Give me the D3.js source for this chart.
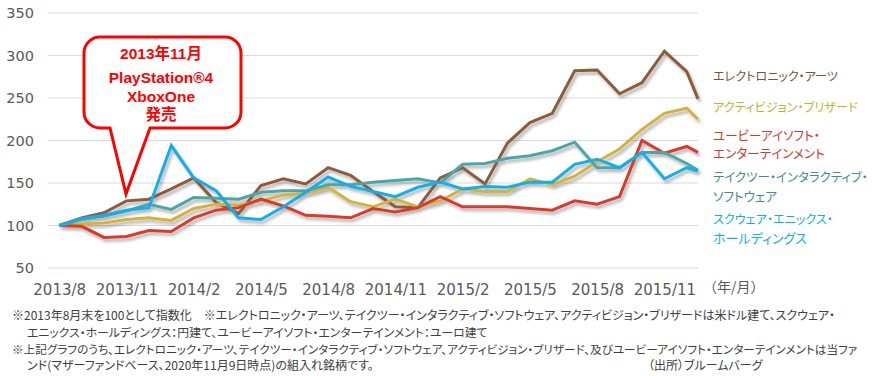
<!DOCTYPE html>
<html>
<head>
<meta charset="utf-8">
<script src="https://cdn.jsdelivr.net/npm/d3@7"></script>
<style>
  body { margin: 0; background: #fff; }
  svg { display: block; }
</style>
</head>
<body>
<svg width="872" height="376"></svg>
<script>
// month offsets from 2013/8 (last observation is mid-month)
const obs = d3.range(29).concat([28.5]);

const tickLabels = ["2013/8", "2013/11", "2014/2", "2014/5", "2014/8",
  "2014/11", "2015/2", "2015/5", "2015/8", "2015/11"];
const yTicks = [50, 100, 150, 200, 250, 300, 350];

const ea = [100, 109, 115, 129, 131, 143, 156, 127, 114, 147, 155, 149, 168, 159, 140,
  122, 121, 156, 168, 149, 197, 221, 232, 282, 283, 255, 268, 305, 281, 249];
const activision = [100, 102, 103, 107, 109, 106, 120, 125, 124, 129, 136, 138, 145, 128, 122,
  131, 122, 129, 143, 140, 140, 155, 148, 158, 175, 190, 213, 232, 238, 225];
const ubisoft = [100, 99, 86, 87, 94, 93, 109, 118, 121, 131, 123, 112, 111, 109, 120,
  116, 121, 134, 122, 122, 122, 120, 118, 129, 125, 134, 200, 185, 193, 186];
const taketwo = [100, 107, 111, 117, 125, 119, 133, 132, 131, 139, 141, 141, 148, 148, 151,
  153, 155, 150, 172, 173, 179, 182, 188, 198, 168, 168, 186, 186, 173, 165];
const squareEnix = [100, 108, 112, 118, 121, 194, 156, 141, 109, 107, 122, 139, 157, 146, 140,
  134, 145, 151, 143, 146, 145, 151, 151, 172, 178, 168, 186, 155, 168, 164];

const series = [
  { name: "ea", values: ea, color: "#8C5B3B" },
  { name: "activision", values: activision, color: "#D5B23C" },
  { name: "ubisoft", values: ubisoft, color: "#D93A2A" },
  { name: "taketwo", values: taketwo, color: "#4BA6A9" },
  { name: "square", values: squareEnix, color: "#12AEEA" },
];

const legend = [
  { lines: ["エレクトロニック・アーツ"], color: "#7D5235", y: 77, w: [125] },
  { lines: ["アクティビジョン・ブリザード"], color: "#CFAB32", y: 108, w: [145] },
  { lines: ["ユービーアイソフト・", "エンターテインメント"], color: "#D23A2A", y: 135, w: [107, 112] },
  { lines: ["テイクツー・インタラクティブ・", "ソフトウェア"], color: "#3F8C90", y: 178, w: [155, 64] },
  { lines: ["スクウェア・エニックス・", "ホールディングス"], color: "#12AEEA", y: 220, w: [120, 94] },
];

const notes = [
  { text: "※2013年8月末を100として指数化　※エレクトロニック・アーツ、テイクツー・インタラクティブ・ソフトウェア、アクティビジョン・ブリザードは米ドル建て、スクウェア・", x: 12, y: 320, w: 826 },
  { text: "エニックス・ホールディングス：円建て、ユービーアイソフト・エンターテインメント：ユーロ建て", x: 27, y: 337, w: 461 },
  { text: "※上記グラフのうち、エレクトロニック・アーツ、テイクツー・インタラクティブ・ソフトウェア、アクティビジョン・ブリザード、及びユービーアイソフト・エンターテインメントは当ファ", x: 12, y: 354, w: 846 },
  { text: "ンド(マザーファンドベース、2020年11月9日時点)の組入れ銘柄です。", x: 27, y: 370, w: 371 },
  { text: "（出所）ブルームバーグ", x: 648, y: 370, w: 132 },
];

const callout = ["2013年11月", "PlayStation®4", "XboxOne", "発売"];

const svg = d3.select("svg");
const jp = "'Noto Sans CJK JP', sans-serif";

const x = d3.scaleLinear().domain([-0.5, 28.5]).range([48, 698]);
const y = d3.scaleLinear().domain([50, 350]).range([268, 13]);

// shrink a text's font until it fits the width seen in the picture
function fit(sel, base, target) {
  sel.style("font-size", base + "px");
  const w = sel.node().getComputedTextLength();
  if (w > target) sel.style("font-size", (base * target / w).toFixed(2) + "px");
}

// drop shadow for the lines
const defs = svg.append("defs");
defs.append("filter").attr("id", "shadow")
  .attr("x", "-10%").attr("y", "-10%").attr("width", "120%").attr("height", "130%")
  .append("feDropShadow")
  .attr("dx", 2).attr("dy", 3).attr("stdDeviation", 1.6)
  .attr("flood-color", "#000").attr("flood-opacity", 0.3);

// gridlines
svg.append("g")
  .selectAll("line")
  .data(yTicks)
  .join("line")
  .attr("x1", x.range()[0])
  .attr("x2", x.range()[1])
  .attr("y1", (d) => y(d))
  .attr("y2", (d) => y(d))
  .style("stroke", "#D9D9D9")
  .style("stroke-width", 1);

// y labels
svg.append("g")
  .selectAll("text")
  .data(yTicks)
  .join("text")
  .attr("x", 34)
  .attr("y", (d) => y(d))
  .attr("dy", "0.36em")
  .attr("text-anchor", "end")
  .style("font-family", "'DejaVu Sans', sans-serif")
  .style("font-size", "14.5px")
  .style("fill", "#595959")
  .text((d) => d);

// x labels
const xAxis = d3.axisBottom(x)
  .tickValues(tickLabels.map((d, i) => i * 3))
  .tickFormat((d, i) => tickLabels[i])
  .tickSize(0)
  .tickPadding(0);
const xg = svg.append("g").attr("transform", "translate(0,284)").call(xAxis);
xg.select(".domain").remove();
xg.selectAll("text")
  .style("font-family", "'DejaVu Sans', sans-serif")
  .style("font-size", "15px")
  .style("fill", "#595959");

svg.append("text")
  .attr("x", 703).attr("y", 292)
  .style("font-family", jp)
  .style("font-size", "14px")
  .style("fill", "#595959")
  .text("（年/月）");

// lines
const line = d3.line()
  .x((d, i) => x(obs[i]))
  .y((d) => y(d));

svg.append("g")
  .attr("filter", "url(#shadow)")
  .selectAll("path")
  .data(series)
  .join("path")
  .attr("d", (d) => line(d.values))
  .style("fill", "none")
  .style("stroke", (d) => d.color)
  .style("stroke-width", 3)
  .style("stroke-linejoin", "miter");

// legend labels
legend.forEach((g) => {
  g.lines.forEach((t, i) => {
    const txt = svg.append("text")
      .attr("x", 713)
      .attr("y", g.y + i * 18)
      .attr("dy", "0.36em")
      .style("font-family", jp)
      .style("font-feature-settings", "'palt'")
      .style("fill", g.color)
      .text(t);
    fit(txt, 13, g.w[i]);
  });
});

// callout bubble
const bx0 = 84, bx1 = 241, by0 = 37, by1 = 128, r = 16;
const tail = [[110, by1], [126, 194], [150, by1]];
const bubble = d3.path();
bubble.moveTo(bx0 + r, by0);
bubble.lineTo(bx1 - r, by0);
bubble.arcTo(bx1, by0, bx1, by0 + r, r);
bubble.lineTo(bx1, by1 - r);
bubble.arcTo(bx1, by1, bx1 - r, by1, r);
bubble.lineTo(tail[2][0], tail[2][1]);
bubble.lineTo(tail[1][0], tail[1][1]);
bubble.lineTo(tail[0][0], tail[0][1]);
bubble.lineTo(bx0 + r, by1);
bubble.arcTo(bx0, by1, bx0, by1 - r, r);
bubble.lineTo(bx0, by0 + r);
bubble.arcTo(bx0, by0, bx0 + r, by0, r);
bubble.closePath();

svg.append("path")
  .attr("d", bubble.toString())
  .style("fill", "#fff")
  .style("stroke", "#FF0000")
  .style("stroke-width", 3)
  .style("stroke-linejoin", "miter");

svg.append("g")
  .selectAll("text")
  .data(callout)
  .join("text")
  .attr("x", 161)
  .attr("y", (d, i) => [53, 77, 96, 114][i])
  .attr("dy", "0.36em")
  .attr("text-anchor", "middle")
  .style("font-family", "'Liberation Sans', " + jp)
  .style("font-weight", "bold")
  .style("font-size", "15.5px")
  .style("fill", "#FF0000")
  .text((d) => d);

// footnotes
svg.append("g")
  .selectAll("text")
  .data(notes)
  .join("text")
  .attr("x", (d) => d.x)
  .attr("y", (d) => d.y)
  .style("font-family", jp)
  .style("font-feature-settings", "'palt'")
  .style("fill", "#404040")
  .text((d) => d.text)
  .each(function (d) { fit(d3.select(this), 12, d.w); });
</script>
</body>
</html>
